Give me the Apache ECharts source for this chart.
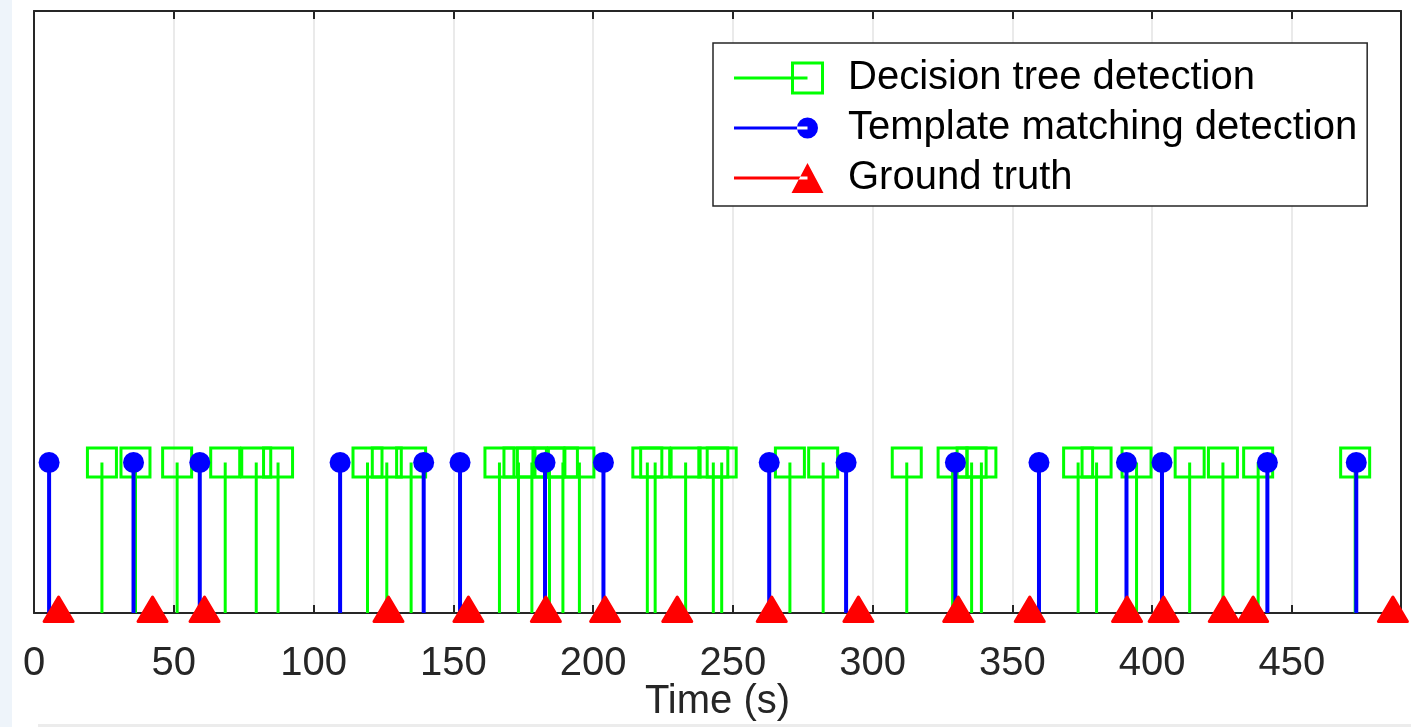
<!DOCTYPE html>
<html>
<head>
<meta charset="utf-8">
<script src="https://cdn.jsdelivr.net/npm/echarts@6/dist/echarts.min.js"></script>
<style>
  html, body { margin: 0; padding: 0; background: #ffffff; }
  #chart { width: 1411px; height: 727px; }
</style>
</head>
<body>
<div id="chart"></div>
<script>
// ---- data (seconds) ----
const decisionTreeTimes = [24.3, 36.3, 51.2, 68.4, 79.5, 87.3, 119.3, 126.2, 134.9,
  166.5, 173.3, 178.1, 184.4, 189.2, 195.1, 219.4, 222.2, 233.1, 243.0, 246.0,
  270.4, 282.3, 312.2, 328.6, 335.4, 338.9, 373.5, 380.1, 394.4, 413.4, 425.3,
  437.9, 472.6];
const templateMatchingTimes = [5.4, 35.6, 59.3, 109.5, 139.4, 152.4, 182.8, 203.7,
  263.0, 290.5, 329.6, 359.5, 390.8, 403.5, 441.2, 473.0];
const groundTruthTimes = [8.8, 42.4, 61.0, 126.8, 155.4, 183.1, 204.3, 230.1, 263.9,
  294.9, 330.6, 356.2, 391.0, 404.1, 425.6, 436.1, 486.1];
const detectionLevel = 1;     // stem height of detections
const groundTruthLevel = 0;   // ground truth plotted on the baseline
const seriesNames = ['Decision tree detection', 'Template matching detection', 'Ground truth'];
const xAxisTitle = 'Time (s)';

const GREEN = '#00ff00', BLUE = '#0000ff', RED = '#ff0000', AXIS = '#262626';
const FONT = 'Liberation Sans, Arial, sans-serif';

function toPairs(times, level) { return times.map(t => [t, level]); }

function stemRenderer(kind, color, lw) {
  return function (params, api) {
    const x = api.value(0), y = api.value(1);
    const top = api.coord([x, y]);
    const base = api.coord([x, 0]);
    const children = [];
    if (top[1] !== base[1]) {
      children.push({
        type: 'line',
        shape: { x1: base[0], y1: base[1], x2: top[0], y2: top[1] },
        style: { stroke: color, lineWidth: lw }
      });
    }
    if (kind === 'square') {
      children.push({
        type: 'rect',
        shape: { x: top[0] - 14.5, y: top[1] - 14.5, width: 29, height: 29 },
        style: { fill: null, stroke: color, lineWidth: 3 }
      });
    } else if (kind === 'circle') {
      children.push({
        type: 'circle',
        shape: { cx: top[0], cy: top[1], r: 10.5 },
        style: { fill: color, stroke: null }
      });
    } else if (kind === 'triangle') {
      children.push({
        type: 'polygon',
        shape: { points: [[top[0] - 14.5, top[1] + 8.5], [top[0] + 14.5, top[1] + 8.5], [top[0], top[1] - 16]] },
        style: { fill: color, stroke: color, lineWidth: 3, lineJoin: 'round' }
      });
    }
    return { type: 'group', children: children };
  };
}

const bboxPts = ' M0 0 L0 0 Z M90 34 L90 34 Z';
const lineSeg = 'M0 15.5 L73.5 15.5 L73.5 18.5 L0 18.5 Z';
const iconSquare = 'path://' + lineSeg + ' M57 0.5 L90 0.5 L90 33.5 L57 33.5 Z M60 3.5 L60 30.5 L87 30.5 L87 3.5 Z' + bboxPts;
const iconCircle = 'path://' + lineSeg + ' M63 17 A10.5 10.5 0 1 0 84 17 A10.5 10.5 0 1 0 63 17 Z' + bboxPts;
const iconTriangle = 'path://' + lineSeg + ' M57.5 32 L89.5 32 L73.5 2 Z' + bboxPts;

const chart = echarts.init(document.getElementById('chart'), null, { renderer: 'canvas' });
const option = {
  backgroundColor: '#ffffff',
  animation: false,
  textStyle: { fontFamily: FONT },
  graphic: [
    { type: 'rect', left: 0, top: 0, shape: { width: 12, height: 727 }, style: { fill: '#eef4fa' }, z: -10 },
    { type: 'rect', left: 38, top: 724, shape: { width: 1373, height: 3 }, style: { fill: '#ececec' }, z: -10 }
  ],
  grid: { left: 34, right: 10, top: 11, bottom: 114, containLabel: false, outerBoundsMode: 'none' },
  xAxis: [
    {
      type: 'value', min: 0, max: 489, interval: 50, position: 'bottom',
      axisLine: { show: true, onZero: false, lineStyle: { color: AXIS, width: 2 } },
      axisTick: { show: true, inside: true, length: 8, lineStyle: { color: AXIS, width: 2 } },
      axisLabel: { fontSize: 40, color: AXIS, margin: 31, showMaxLabel: false, fontFamily: FONT },
      splitLine: { show: true, lineStyle: { color: '#e3e3e3', width: 1.5 } },
      name: xAxisTitle, nameLocation: 'middle', nameGap: 69, nameMoveOverlap: false,
      nameTextStyle: { fontSize: 40, color: AXIS, fontFamily: FONT }
    },
    {
      type: 'value', min: 0, max: 489, interval: 50, position: 'top',
      axisLine: { show: true, onZero: false, lineStyle: { color: AXIS, width: 2 } },
      axisTick: { show: true, inside: true, length: 8, lineStyle: { color: AXIS, width: 2 } },
      axisLabel: { show: false },
      splitLine: { show: false }
    }
  ],
  yAxis: [
    {
      type: 'value', min: 0, max: 4, position: 'left',
      axisLine: { show: true, onZero: false, lineStyle: { color: AXIS, width: 2 } },
      axisTick: { show: false }, axisLabel: { show: false }, splitLine: { show: false }
    },
    {
      type: 'value', min: 0, max: 4, position: 'right',
      axisLine: { show: true, onZero: false, lineStyle: { color: AXIS, width: 2 } },
      axisTick: { show: false }, axisLabel: { show: false }, splitLine: { show: false }
    }
  ],
  legend: {
    orient: 'vertical', left: 713, top: 43,
    padding: [15, 10, 8, 21],
    itemGap: 10, itemWidth: 90, itemHeight: 34,
    backgroundColor: '#ffffff', borderColor: AXIS, borderWidth: 1.5,
    textStyle: { fontSize: 40, lineHeight: 40, color: '#000000', padding: [0, 0, 0, 19], fontFamily: FONT },
    data: [
      { name: seriesNames[0], icon: iconSquare, itemStyle: { color: GREEN, borderWidth: 0 } },
      { name: seriesNames[1], icon: iconCircle, itemStyle: { color: BLUE, borderWidth: 0 } },
      { name: seriesNames[2], icon: iconTriangle, itemStyle: { color: RED, borderWidth: 0 } }
    ]
  },
  series: [
    {
      name: seriesNames[0], type: 'custom', xAxisIndex: 0, yAxisIndex: 0, clip: false,
      color: GREEN, z: 2, renderItem: stemRenderer('square', GREEN, 3),
      data: toPairs(decisionTreeTimes, detectionLevel)
    },
    {
      name: seriesNames[1], type: 'custom', xAxisIndex: 0, yAxisIndex: 0, clip: false,
      color: BLUE, z: 3, renderItem: stemRenderer('circle', BLUE, 4),
      data: toPairs(templateMatchingTimes, detectionLevel)
    },
    {
      name: seriesNames[2], type: 'custom', xAxisIndex: 0, yAxisIndex: 0, clip: false,
      color: RED, z: 4, renderItem: stemRenderer('triangle', RED, 3),
      data: toPairs(groundTruthTimes, groundTruthLevel)
    }
  ]
};
chart.setOption(option);
</script>
</body>
</html>
